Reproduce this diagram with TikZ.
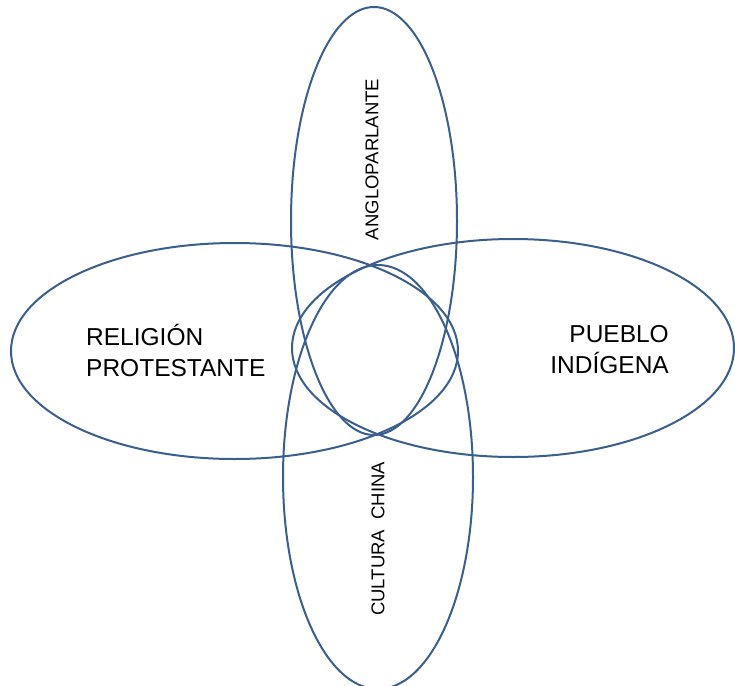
\documentclass[tikz,border=0pt]{standalone}
\usepackage{fontspec}
\setmainfont{Liberation Sans}
\definecolor{edgeblue}{HTML}{3A5F8E}
\begin{document}
\begin{tikzpicture}[x=1pt,y=-1pt,
  oval/.style={draw=edgeblue, line width=2pt},
  biglabel/.style={inner sep=0pt, font=\fontsize{24.5}{31}\selectfont},
  sidelabel/.style={inner sep=0pt, rotate=90, font=\fontsize{18.5}{22}\selectfont}]
\useasboundingbox (0,0) rectangle (735,685);
% ellipses
\draw[oval] (374,221) ellipse [x radius=83, y radius=214];
\draw[oval] (234.5,351) ellipse [x radius=223.5, y radius=108];
\draw[oval] (513,348) ellipse [x radius=221, y radius=109];
\draw[oval] (378,477) ellipse [x radius=95, y radius=212];
% labels
\node[biglabel, anchor=base west, align=left] (rel) at (86,376) {RELIGIÓN\\PROTESTANTE};
\node[biglabel, anchor=base east, align=right] (pue) at (669,373) {PUEBLO\\INDÍGENA};
\node[sidelabel] (ang) at (372,159.5) {ANGLOPARLANTE};
\node[sidelabel] (cul) at (378,539) {CULTURA~~CHINA};
\end{tikzpicture}
\end{document}
